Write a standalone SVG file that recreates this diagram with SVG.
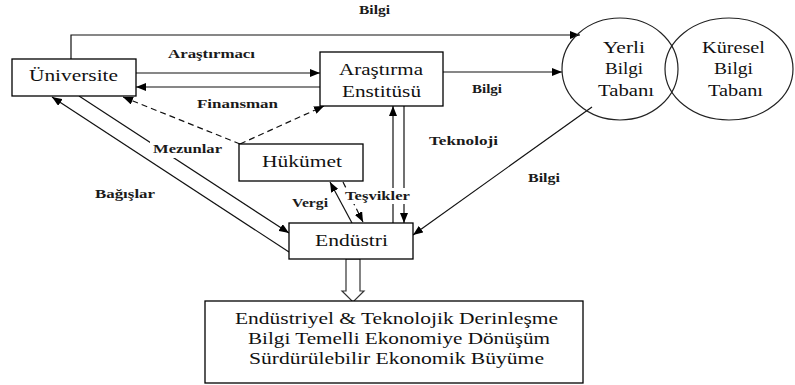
<svg xmlns="http://www.w3.org/2000/svg" width="795" height="385" viewBox="0 0 795 385" font-family="Liberation Serif, serif">
<style>
.box{fill:#fff;stroke:#000;stroke-width:1.3}
.ell{fill:#fff;stroke:#222;stroke-width:1.2}
.nt{font-size:17px;fill:#111;text-anchor:middle}
.lb{font-size:13px;font-weight:bold;fill:#1a1a1a;text-anchor:middle}
.ln{fill:none;stroke:#111;stroke-width:1.2}
.ds{fill:none;stroke:#111;stroke-width:1.2;stroke-dasharray:6,4}
</style>
<defs>
<marker id="ah" markerWidth="10" markerHeight="8" refX="10" refY="4" orient="auto" markerUnits="userSpaceOnUse">
<path d="M0,0 L10,4 L0,8 Z" fill="#000"/>
</marker>
</defs>
<g id="connectors">
<polyline class="ln" points="71,59 71,35 580,35" marker-end="url(#ah)"/>
<line class="ln" x1="136" y1="73" x2="320" y2="73" marker-end="url(#ah)"/>
<line class="ln" x1="320" y1="87" x2="136" y2="87" marker-end="url(#ah)"/>
<line class="ln" x1="443" y1="72" x2="562" y2="72" marker-end="url(#ah)"/>
<line class="ds" x1="240" y1="144" x2="123" y2="97" marker-end="url(#ah)"/>
<line class="ds" x1="240" y1="144" x2="324" y2="106" marker-end="url(#ah)"/>
<line class="ln" x1="79" y1="96" x2="289" y2="233" marker-end="url(#ah)"/>
<line class="ln" x1="289" y1="252" x2="52" y2="97" marker-end="url(#ah)"/>
<line class="ln" x1="352" y1="223" x2="330" y2="182" marker-end="url(#ah)"/>
<line class="ds" x1="343" y1="182" x2="363" y2="222" stroke-dasharray="9,4" marker-end="url(#ah)"/>
<line class="ln" x1="393" y1="223" x2="393" y2="106" marker-end="url(#ah)"/>
<line class="ln" x1="404" y1="106" x2="404" y2="223" marker-end="url(#ah)"/>
<line class="ln" x1="592" y1="107" x2="413" y2="235" marker-end="url(#ah)"/>
<polygon points="346,259 360,259 360,291 364,291 353,302 342,291 346,291" fill="#fff" stroke="#333" stroke-width="1.2"/>
<rect x="150" y="140" width="76" height="18" fill="#fff"/>
<rect x="343" y="188" width="70" height="16" fill="#fff"/>
<text class="lb" x="374.5" y="14" textLength="31" lengthAdjust="spacingAndGlyphs">Bilgi</text>
<text class="lb" x="211.5" y="58" textLength="87" lengthAdjust="spacingAndGlyphs">Araştırmacı</text>
<text class="lb" x="237.5" y="108" textLength="81" lengthAdjust="spacingAndGlyphs">Finansman</text>
<text class="lb" x="487" y="93" textLength="30" lengthAdjust="spacingAndGlyphs">Bilgi</text>
<text class="lb" x="187.5" y="153" textLength="69" lengthAdjust="spacingAndGlyphs">Mezunlar</text>
<text class="lb" x="125" y="198" textLength="60" lengthAdjust="spacingAndGlyphs">Bağışlar</text>
<text class="lb" x="310" y="207" textLength="36" lengthAdjust="spacingAndGlyphs">Vergi</text>
<text class="lb" x="377.5" y="200" textLength="65" lengthAdjust="spacingAndGlyphs">Teşvikler</text>
<text class="lb" x="463.5" y="145" textLength="69" lengthAdjust="spacingAndGlyphs">Teknoloji</text>
<text class="lb" x="544" y="182" textLength="32" lengthAdjust="spacingAndGlyphs">Bilgi</text>
</g>
<g id="universite">
<rect class="box" x="12" y="59" width="124" height="37"/>
<text class="nt" x="73.5" y="81" textLength="89" lengthAdjust="spacingAndGlyphs">Üniversite</text>
</g>
<g id="arastirma">
<rect class="box" x="320" y="52" width="123" height="54"/>
<text class="nt" x="381" y="75" textLength="84" lengthAdjust="spacingAndGlyphs">Araştırma</text>
<text class="nt" x="381.5" y="97" textLength="79" lengthAdjust="spacingAndGlyphs">Enstitüsü</text>
</g>
<g id="kuresel">
<ellipse class="ell" cx="729" cy="69" rx="64" ry="51"/>
<text class="nt" x="733.5" y="53" textLength="63" lengthAdjust="spacingAndGlyphs">Küresel</text>
<text class="nt" x="733.5" y="74" textLength="39" lengthAdjust="spacingAndGlyphs">Bilgi</text>
<text class="nt" x="735.5" y="96" textLength="55" lengthAdjust="spacingAndGlyphs">Tabanı</text>
</g>
<g id="yerli">
<ellipse class="ell" cx="620" cy="69" rx="58" ry="51" style="fill:none"/>
<text class="nt" x="624" y="53" textLength="42" lengthAdjust="spacingAndGlyphs">Yerli</text>
<text class="nt" x="624" y="74" textLength="38" lengthAdjust="spacingAndGlyphs">Bilgi</text>
<text class="nt" x="626" y="96" textLength="56" lengthAdjust="spacingAndGlyphs">Tabanı</text>
</g>
<g id="hukumet">
<rect class="box" x="239" y="144" width="124" height="37"/>
<text class="nt" x="302" y="167" textLength="80" lengthAdjust="spacingAndGlyphs">Hükümet</text>
</g>
<g id="endustri">
<rect class="box" x="289" y="223" width="124" height="36"/>
<text class="nt" x="351.5" y="246" textLength="73" lengthAdjust="spacingAndGlyphs">Endüstri</text>
</g>
<g id="sonuc">
<rect class="box" x="205" y="301" width="378" height="82"/>
<text class="nt" x="396.5" y="324" textLength="323" lengthAdjust="spacingAndGlyphs">Endüstriyel &amp; Teknolojik  Derinleşme</text>
<text class="nt" x="399" y="344" textLength="302" lengthAdjust="spacingAndGlyphs">Bilgi Temelli  Ekonomiye Dönüşüm</text>
<text class="nt" x="396.5" y="364" textLength="295" lengthAdjust="spacingAndGlyphs">Sürdürülebilir Ekonomik Büyüme</text>
</g>
</svg>
